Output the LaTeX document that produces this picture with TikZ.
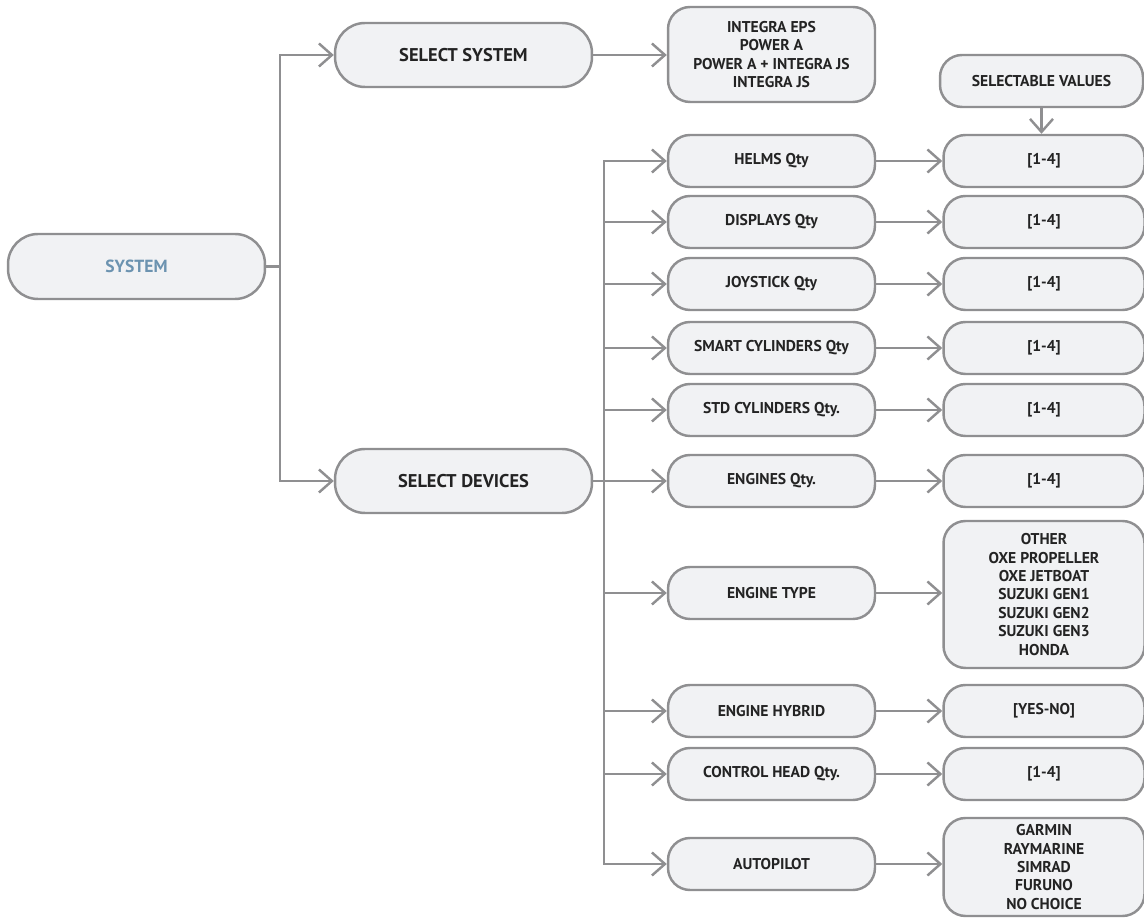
\documentclass[tikz,border=0pt]{standalone}
\usepackage{fontspec}
\setmainfont{PT Sans}
\usetikzlibrary{arrows.meta}
\definecolor{bordc}{HTML}{8F8F91}
\definecolor{fillc}{HTML}{F1F2F4}
\definecolor{txtc}{HTML}{232323}
\definecolor{sysc}{HTML}{6C93B0}
\begin{document}
\begin{tikzpicture}[x=0.02cm,y=-0.02cm,
  box/.style={draw=bordc, fill=fillc, line width=1.4pt, rounded corners=0.44cm,
    inner sep=0pt, align=center, text=txtc, font=\bfseries\fontsize{8.9}{10.5}\selectfont},
  lbox/.style={box, minimum width=4.14cm, minimum height=1.04cm},
  rbox/.style={box, minimum width=4.02cm, minimum height=1.04cm},
  bigbox/.style={box, minimum width=5.14cm, minimum height=1.28cm, rounded corners=0.6cm,
    font=\bfseries\fontsize{10.5}{12}\selectfont},
  arr/.style={draw=bordc, line width=1.4pt, -{Straight Barb[length=0.26cm,width=0.46cm]}},
  ln/.style={draw=bordc, line width=1.4pt}]
\useasboundingbox (0,0) rectangle (1144,918);

\node[bigbox, minimum height=1.3cm, text=sysc, font=\bfseries\fontsize{10}{12}\selectfont] (sys) at (136.5,266.5) {SYSTEM};
\node[bigbox] (selsys) at (463.5,55) {SELECT SYSTEM};
\node[bigbox] (seldev) at (463.5,481) {SELECT DEVICES};

\node[lbox, minimum height=1.9cm] (opts) at (771.5,54.5) {INTEGRA EPS\\POWER A\\POWER A + INTEGRA JS\\INTEGRA JS};
\node[box, minimum width=4.06cm, minimum height=1.04cm] (sv) at (1041.5,81) {SELECTABLE VALUES};

\node[lbox] (helms) at (771.5,161) {HELMS Qty};
\node[lbox] (disp) at (771.5,222) {DISPLAYS Qty};
\node[lbox] (joy) at (771.5,284) {JOYSTICK Qty};
\node[lbox] (smart) at (771.5,348) {SMART CYLINDERS Qty};
\node[lbox] (std) at (771.5,410) {STD CYLINDERS Qty.};
\node[lbox] (eng) at (771.5,481) {ENGINES Qty.};
\node[lbox] (etype) at (771.5,593) {ENGINE TYPE};
\node[lbox] (ehyb) at (771.5,711) {ENGINE HYBRID};
\node[lbox] (chead) at (771.5,774) {CONTROL HEAD Qty.};
\node[lbox] (auto) at (771.5,864) {AUTOPILOT};

\node[rbox] (vhelms) at (1044,161) {[1-4]};
\node[rbox] (vdisp) at (1044,222) {[1-4]};
\node[rbox] (vjoy) at (1044,284) {[1-4]};
\node[rbox] (vsmart) at (1044,348) {[1-4]};
\node[rbox] (vstd) at (1044,410) {[1-4]};
\node[rbox] (veng) at (1044,481) {[1-4]};
\node[rbox, minimum height=2.94cm] (vtype) at (1044,594.5) {OTHER\\OXE PROPELLER\\OXE JETBOAT\\SUZUKI GEN1\\SUZUKI GEN2\\SUZUKI GEN3\\HONDA};
\node[rbox] (vhyb) at (1044,711) {[YES-NO]};
\node[rbox] (vchead) at (1044,774) {[1-4]};
\node[rbox, minimum height=1.96cm] (vauto) at (1044,867) {GARMIN\\RAYMARINE\\SIMRAD\\FURUNO\\NO CHOICE};

% system trunk
\draw[arr] (sys.east) -- ++(14,0) |- (selsys.west);
\draw[arr] (sys.east) -- ++(14,0) |- (seldev.west);
\draw[arr] (selsys.east) -- (opts.west |- selsys.east);
\draw[arr] (sv.south) -- (sv.south |- vhelms.north);

% devices distributor
\foreach \n in {helms,disp,joy,smart,std,eng,etype,ehyb,chead,auto}
  \draw[arr] (seldev.east) -- ++(11,0) |- (\n.west);

% value arrows
\draw[arr] (helms.east) -- (vhelms.west);
\draw[arr] (disp.east) -- (vdisp.west);
\draw[arr] (joy.east) -- (vjoy.west);
\draw[arr] (smart.east) -- (vsmart.west);
\draw[arr] (std.east) -- (vstd.west);
\draw[arr] (eng.east) -- (veng.west);
\draw[arr] (etype.east) -- (etype.east -| vtype.west);
\draw[arr] (ehyb.east) -- (vhyb.west);
\draw[arr] (chead.east) -- (vchead.west);
\draw[arr] (auto.east) -- (auto.east -| vauto.west);
\end{tikzpicture}
\end{document}
